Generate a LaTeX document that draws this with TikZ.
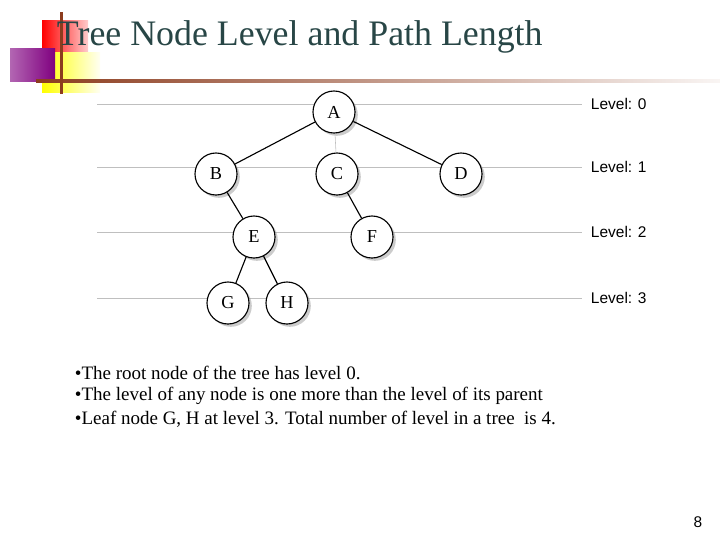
\documentclass[tikz,border=0pt]{standalone}
\usepackage{fontspec}
\setmainfont{Liberation Serif}
\setsansfont{Liberation Sans}
\usetikzlibrary{shadows}
\definecolor{titlecol}{RGB}{40,70,70}
\definecolor{barcol}{RGB}{140,60,30}
\begin{document}
\begin{tikzpicture}
    [x=0.025cm,y=-0.025cm,
    treenode/.style={circle,draw,thick,minimum size=1.05cm,inner sep=0pt,fill=white,
    drop shadow={shadow xshift=2pt,shadow yshift=-2pt,fill=black!40},
    font=\fontsize{13}{15}\selectfont},
    levelline/.style={black!25,very thin},
    levellabel/.style={anchor=west,font=\fontsize{11}{13}\sffamily\selectfont},
    bullet/.style={anchor=west,font=\fontsize{13.5}{15}\selectfont}]
    \useasboundingbox (0,0) rectangle (720,540);
    % corner decoration
    \fill[left color=red,right color=red!20] (42,20) rectangle (88,52);
    \fill[left color=yellow,right color=yellow!5] (42,52) rectangle (100,92);
    \fill[left color=violet!60,right color=violet] (10,48) rectangle (55,81);
    \shade[left color=barcol,right color=barcol!5] (36,79) rectangle (720,82);
    \fill[barcol] (60,12) rectangle (63,94);
    \node[anchor=west,text=titlecol,font=\fontsize{25.5}{28}\selectfont] (title) at (52,37) {Tree Node Level and Path Length};
    % level lines
    \foreach \y/\l in {104/0,167/1,232/2,298/3}{
      \draw[levelline] (97,\y) -- (582,\y);
      \node[levellabel] (lev\l) at (586,\y) {Level: \l};
    }
    % tree
    \node[treenode] (A) at (334,112) {A};
    \node[treenode] (B) at (216,174) {B};
    \node[treenode] (C) at (337,174) {C};
    \node[treenode] (D) at (461,174) {D};
    \node[treenode] (E) at (254,237) {E};
    \node[treenode] (F) at (372,237) {F};
    \node[treenode] (G) at (228,303) {G};
    \node[treenode] (H) at (287,303) {H};
    \draw[black!25] (A) -- (C);
    \draw[thick] (A) -- (B); \draw[thick] (A) -- (D);
    \draw[thick] (B) -- (E); \draw[thick] (C) -- (F);
    \draw[thick] (E) -- (G); \draw[thick] (E) -- (H);
    % notes
    \node[bullet] (n1) at (70,373) {\textbullet The root node of the tree has level 0.};
    \node[bullet] (n2) at (70,396) {\textbullet The level of any node is one more than the level of its parent};
    \node[bullet] (n3) at (70,419) {\textbullet Leaf node G, H at level 3. Total number of level in a tree\ \ is 4.};
    \node[font=\fontsize{11}{13}\sffamily\selectfont] (page) at (698,522) {8};
\end{tikzpicture}
\end{document}
